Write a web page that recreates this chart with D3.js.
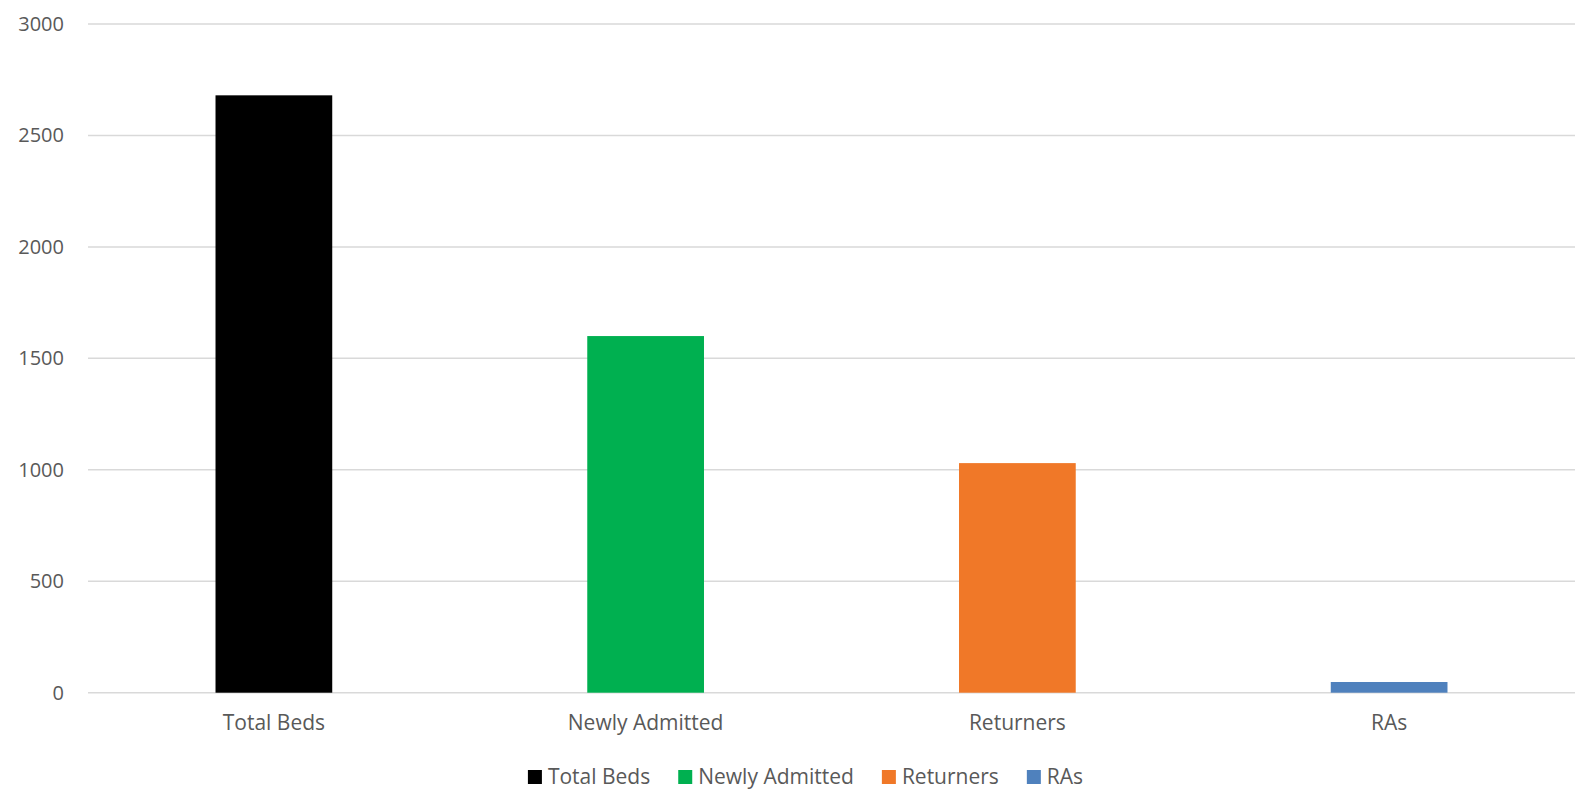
<!DOCTYPE html>
<html><head><meta charset="utf-8">
<script src="https://cdn.jsdelivr.net/npm/d3@7"></script>
<style>
html,body{margin:0;padding:0;background:#fff;}
svg text{font-family:"Open Sans","Liberation Sans",sans-serif;fill:#595959;}
</style></head>
<body><svg id="chart" width="1575" height="789"></svg>
<script>
const categories = ["Total Beds", "Newly Admitted", "Returners", "RAs"];
const values = [2680, 1600, 1030, 48];
const colors = ["#000000", "#00b050", "#f07828", "#4f81bd"];
const yTicks = [0, 500, 1000, 1500, 2000, 2500, 3000];

const svg = d3.select("#chart");
const margin = {left: 88, right: 0, top: 24, bottom: 96};
const W = 1575, H = 789;
const x = d3.scaleBand().domain(categories).range([margin.left, W - margin.right]).paddingInner(0.686).paddingOuter(0.343);
const y = d3.scaleLinear().domain([0, 3000]).range([H - margin.bottom - 0.3, margin.top]);

const grid = svg.append("g");
grid.selectAll("line").data(yTicks).join("line")
  .attr("x1", margin.left).attr("x2", W - margin.right)
  .attr("y1", d => y(d)).attr("y2", d => y(d))
  .attr("stroke", "#d9d9d9").attr("stroke-width", 1.5);

const yAxis = d3.axisLeft(y).tickValues(yTicks).tickSize(0).tickPadding(0).tickFormat(d3.format("d"));
const ya = svg.append("g").attr("transform", `translate(${64},0)`).call(yAxis);
ya.select(".domain").remove();
ya.selectAll("text").attr("font-size", 20).attr("fill", "#595959").attr("font-family", "Open Sans, Liberation Sans, sans-serif");

svg.append("g").selectAll("rect").data(categories).join("rect")
  .attr("x", d => x(d)).attr("width", x.bandwidth())
  .attr("y", (d, i) => y(values[i])).attr("height", (d, i) => y(0) - y(values[i]))
  .attr("fill", (d, i) => colors[i]);

const xAxis = d3.axisBottom(x).tickSize(0).tickPadding(0);
const xa = svg.append("g").attr("transform", `translate(0,${y(0) + 22})`).call(xAxis);
xa.select(".domain").remove();
xa.selectAll("text").attr("font-size", 21).attr("fill", "#595959").attr("font-family", "Open Sans, Liberation Sans, sans-serif");

// legend
const legend = svg.append("g");
const items = legend.selectAll("g").data(categories).join("g");
items.append("rect").attr("width", 14).attr("height", 14).attr("y", -7).attr("fill", (d, i) => colors[i]);
items.append("text").attr("x", 20).attr("dy", "0.35em").attr("font-size", 21).text(d => d);
const widths = [];
items.each(function() { widths.push(this.getBBox().width); });
const gap = 28;
const total = widths.reduce((a, b) => a + b, 0) + gap * (widths.length - 1);
let cx = (W - total) / 2 + 18;
items.attr("transform", (d, i) => { const t = `translate(${cx},777)`; cx += widths[i] + gap; return t; });
</script></body></html>
